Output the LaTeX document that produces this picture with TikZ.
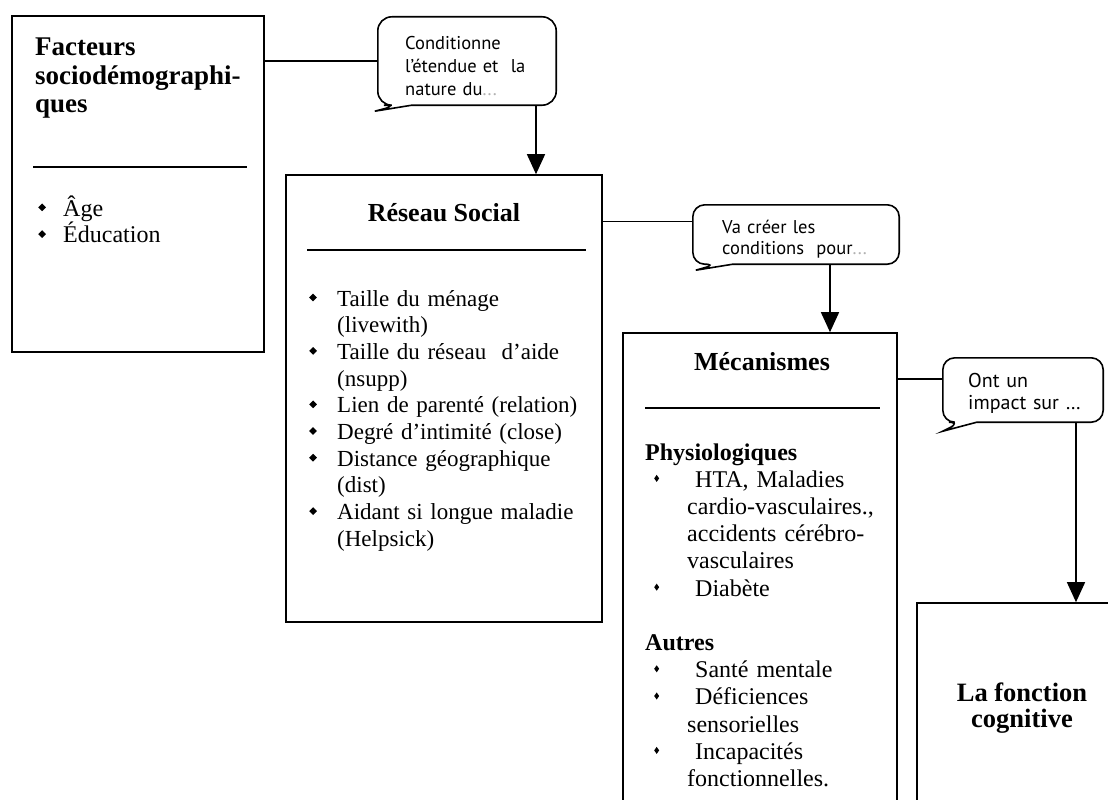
\documentclass[tikz,border=0pt]{standalone}
\usepackage{fontspec}
\setmainfont{Liberation Serif}
\newfontfamily\callfont{PT Sans}
\usetikzlibrary{arrows.meta,calc}
\newcommand{\bul}{\raisebox{0.2em}{\rotatebox{45}{\rule{5.5pt}{5.5pt}}}}
\newcommand{\sbul}{\raisebox{0.22em}{\scalebox{0.7}[1]{\rotatebox{45}{\rule{5pt}{5pt}}}}}
\newcommand{\itm}[2]{\hangindent=#1\hangafter=1\noindent\makebox[#1][l]{\bul}#2\par}
\newcommand{\mitm}[1]{\hangindent=42pt\hangafter=1\noindent\makebox[42pt][l]{\hspace{9pt}\sbul}\hspace{8pt}#1\par}
\begin{document}
\begin{tikzpicture}[x=1pt,y=-1pt,
  box/.style={draw, line width=1.6pt, rectangle, inner sep=0pt},
  conn/.style={line width=1.4pt},
  arr/.style={line width=1.4pt, -{Triangle[length=20pt,width=18pt]}},
  cl/.style={draw, line width=1.6pt},
  rulel/.style={line width=2.6pt},
  hold/.style={inner sep=0pt},
  txt/.style={anchor=base west, inner sep=0pt, align=left},
]
\useasboundingbox (0,0) rectangle (1108,800);

% boxes
\node[box, minimum width=252, minimum height=336] (fact) at (138,184) {};
\node[box, minimum width=316, minimum height=447] (res) at (444,398.5) {};
\node[box, minimum width=274, minimum height=497] (mec) at (760,581.5) {};
\node[box, minimum width=223, minimum height=227] (fonc) at (1028.5,716.5) {};

% callout placeholders
\node[hold, minimum width=178, minimum height=88] (c1) at (467,61) {};
\node[hold, minimum width=206, minimum height=59] (c2) at (796,234.5) {};
\node[hold, minimum width=160, minimum height=64] (c3) at (1023,390) {};
\coordinate (t1) at ($(c1.south west)+(-3,6)$);
\coordinate (t2) at ($(c2.south west)+(3,6)$);
\coordinate (t3) at ($(c3.south west)+(0,9)$);

\draw[cl] ($(c1.south west)+(34,0)$) [rounded corners=14] -- (c1.south east) -- (c1.north east) -- (c1.north west) -- (c1.south west) -- ($(c1.south west)+(20,0)$) [sharp corners] -- (t1) -- cycle;
\draw[cl] ($(c2.south west)+(40,0)$) [rounded corners=12] -- (c2.south east) -- (c2.north east) -- (c2.north west) -- (c2.south west) -- ($(c2.south west)+(24,0)$) [sharp corners] -- (t2) -- cycle;
\draw[cl] ($(c3.south west)+(34,0)$) [rounded corners=12] -- (c3.south east) -- (c3.north east) -- (c3.north west) -- (c3.south west) -- ($(c3.south west)+(18,0)$) [sharp corners] -- (t3) -- cycle;

% callout texts
\node[txt, text width=145, font=\callfont\fontsize{18.5}{23.5}\selectfont] (q1) at (405,49) {Conditionne\newline l’étendue et\ \ la\newline nature du{\color{gray!60}...}\par};
\node[txt, text width=170, font=\callfont\fontsize{18.5}{21}\selectfont] (q2) at (722,233) {Va créer les\newline conditions\ \ pour{\color{gray!60}...}\par};
\node[txt, text width=132, font=\callfont\fontsize{20}{22}\selectfont] (q3) at (968,387) {Ont un\newline impact sur \dots\par};

% connectors
\coordinate (j2) at ($(c2.west)+(0,-13)$);
\coordinate (j3) at ($(c3.west)+(0,-11)$);
\coordinate (x1) at (536,0);
\coordinate (x2) at (830,0);
\coordinate (x3) at (1076,0);
\draw[conn] (fact.east |- c1.west) -- (c1.west);
\draw[arr] (x1 |- c1.south) -- (x1 |- res.north);
\draw[conn] (res.east |- j2) -- (j2);
\draw[arr] (x2 |- c2.south) -- (x2 |- mec.north);
\draw[conn] (mec.east |- j3) -- (j3);
\draw[arr] (x3 |- c3.south) -- (x3 |- fonc.north);

% Facteurs
\node[txt, text width=230, font=\fontsize{27}{28.5}\selectfont\bfseries] (fh) at (35,56) {Facteurs\newline sociodémographi-\newline ques\par};
\draw[rulel] (33,167) -- (247,167);
\node[txt, text width=200, font=\fontsize{24}{22}\selectfont] (fl) at (38,216) {\itm{25pt}{Âge}\itm{25pt}{Éducation}};

% Reseau
\node[font=\fontsize{26}{28}\selectfont\bfseries] (rh) at (444,213) {Réseau Social};
\draw[rulel] (307,250) -- (586,250);
\node[txt, text width=290, font=\fontsize{23}{26.7}\selectfont] (rl) at (309,306) {%
\itm{28pt}{Taille du ménage\newline (livewith)}%
\itm{28pt}{Taille du réseau\ \ d’aide\newline (nsupp)}%
\itm{28pt}{Lien de parenté (relation)}%
\itm{28pt}{Degré d’intimité (close)}%
\itm{28pt}{Distance géographique\newline (dist)}%
\itm{28pt}{Aidant si longue maladie\newline (Helpsick)}};

% Mecanismes
\node[font=\fontsize{26}{28}\selectfont\bfseries] (mh) at (762,362) {Mécanismes};
\draw[rulel] (645,408) -- (880,408);
\node[txt, text width=250, font=\fontsize{24}{27.2}\selectfont] (ml) at (645,460) {%
\noindent\textbf{Physiologiques}\par
\mitm{HTA, Maladies\newline cardio-vasculaires.,\newline accidents cérébro-\newline vasculaires}%
\mitm{Diabète}\vspace{27.2pt}%
\noindent\textbf{Autres}\par
\mitm{Santé mentale}%
\mitm{Déficiences\newline sensorielles}%
\mitm{Incapacités\newline fonctionnelles.}};

% Fonction
\node[align=center, font=\fontsize{26.5}{26}\selectfont\bfseries] (fc) at (1022,708) {La fonction\\cognitive};
\end{tikzpicture}
\end{document}
